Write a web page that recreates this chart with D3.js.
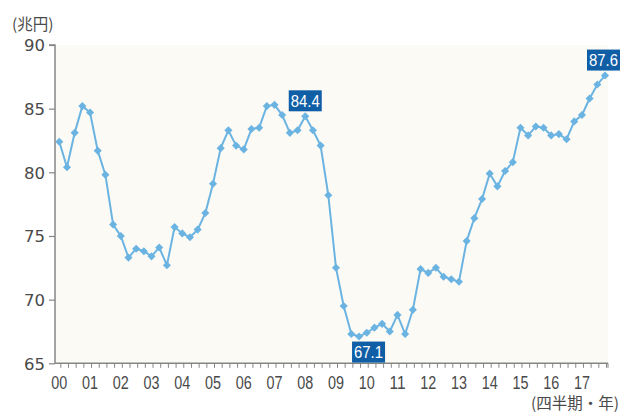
<!DOCTYPE html>
<html><head><meta charset="utf-8">
<script src="https://cdn.jsdelivr.net/npm/d3@7"></script>
<style>
html,body{margin:0;padding:0;background:#fff;}
svg{display:block;}
</style></head>
<body>
<svg id="chart" width="621" height="414"></svg>
<script>
// ---- data ----
const years = ["00","01","02","03","04","05","06","07","08","09","10","11","12","13","14","15","16","17"];
const quarters = ["Q1","Q2","Q3","Q4"];
const categories = years.flatMap(y => quarters.map(q => y + q));
const values = [
  82.4, 80.4, 83.1, 85.2,   // 00
  84.7, 81.7, 79.8, 75.9,   // 01
  75.0, 73.3, 74.0, 73.8,   // 02
  73.4, 74.1, 72.7, 75.7,   // 03
  75.2, 74.9, 75.5, 76.8,   // 04
  79.1, 81.9, 83.3, 82.1,   // 05
  81.8, 83.4, 83.5, 85.2,   // 06
  85.3, 84.5, 83.1, 83.3,   // 07
  84.4, 83.3, 82.1, 78.2,   // 08
  72.5, 69.5, 67.3, 67.1,   // 09
  67.4, 67.8, 68.1, 67.5,   // 10
  68.8, 67.3, 69.2, 72.4,   // 11
  72.1, 72.5, 71.8, 71.6,   // 12
  71.4, 74.6, 76.4, 77.9,   // 13
  79.9, 78.9, 80.1, 80.8,   // 14
  83.5, 82.9, 83.6, 83.5,   // 15
  82.9, 83.0, 82.6, 84.0,   // 16
  84.5, 85.8, 86.9, 87.6    // 17
];
const yTicks = [65, 70, 75, 80, 85, 90];
const calloutsAbove = ["08Q1", "17Q4"];
const calloutsBelow = ["09Q4"];
const yUnit = "(兆円)";
const xUnit = "(四半期・年)";

// ---- layout ----
const svg = d3.select("#chart");
const W = 621;
const axisX = 55, axisRight = 608, plotTop = 45, plotBottom = 363.3;
const x = d3.scalePoint().domain(categories).range([59.3, 605]);
const y = d3.scaleLinear().domain([65, 90]).range([plotBottom, plotTop]);
const data = categories.map((c, i) => ({c, v: values[i]}));

const lineColor = "#6bb4e2";
const boxColor = "#0f5ea6";
const textColor = "#4a4a4a";
const axisColor = "#858585";

// plot background
svg.append("rect").attr("x", axisX).attr("y", plotTop)
  .attr("width", axisRight - axisX).attr("height", plotBottom - plotTop)
  .attr("fill", "#fcfaf5");

// y axis
const yAxis = d3.axisLeft(y).tickValues(yTicks).tickSize(6).tickPadding(4);
const gy = svg.append("g").attr("transform", `translate(${axisX},0)`).call(yAxis);
gy.select(".domain").attr("stroke", axisColor).attr("stroke-width", 1.5).attr("d", `M-6,${plotTop}H0V${plotBottom}`);
gy.selectAll(".tick line").attr("stroke", axisColor).attr("stroke-width", 1.2);
gy.selectAll(".tick text").attr("fill", textColor)
  .style("font-family", "'DejaVu Sans', sans-serif").style("font-size", "16.5px")
  .attr("dy", "0.36em");

// x axis: quarter ticks
const gx = svg.append("g").attr("transform", `translate(0,${plotBottom})`);
gx.append("line").attr("x1", axisX).attr("x2", axisRight).attr("y1", 0).attr("y2", 0)
  .attr("stroke", axisColor).attr("stroke-width", 1.5);
gx.selectAll("line.qt").data(categories).enter().append("line").attr("class", "qt")
  .attr("x1", d => x(d) + 1.5).attr("x2", d => x(d) + 1.5)
  .attr("y1", 0).attr("y2", 4.5).attr("stroke", axisColor).attr("stroke-width", 1);
gx.append("line").attr("x1", axisRight).attr("x2", axisRight).attr("y1", 0).attr("y2", 4.5)
  .attr("stroke", axisColor).attr("stroke-width", 1);
gx.selectAll("text.yl").data(years).enter().append("text").attr("class", "yl")
  .attr("x", d => x(d + "Q1")).attr("y", 25.5)
  .attr("text-anchor", "middle").attr("fill", textColor)
  .style("font-family", "'Liberation Sans', Arial, sans-serif").style("font-size", "18px")
  .attr("textLength", 16).attr("lengthAdjust", "spacingAndGlyphs")
  .text(d => d);

// line
svg.append("path").datum(data)
  .attr("fill", "none").attr("stroke", lineColor).attr("stroke-width", 2)
  .attr("d", d3.line().x(d => x(d.c)).y(d => y(d.v)));

// diamond markers
svg.selectAll("path.mk").data(data).enter().append("path").attr("class", "mk")
  .attr("transform", d => `translate(${x(d.c)},${y(d.v)})`)
  .attr("d", d3.symbol().type(d3.symbolDiamond2).size(42))
  .attr("fill", lineColor);

// callouts
function callout(cat, below) {
  const v = values[categories.indexOf(cat)];
  const px = x(cat), py = y(v);
  const w = 33, h = 21;
  let bx = below ? px - 7 : px - w / 2;
  bx = Math.min(bx, W - w - 1);
  const by = below ? py + 5 : py - 5 - h;
  svg.append("rect").attr("x", bx).attr("y", by).attr("width", w).attr("height", h).attr("fill", boxColor);
  svg.append("text").attr("x", bx + w / 2).attr("y", by + h / 2 + 6)
    .attr("text-anchor", "middle").attr("fill", "#fff")
    .style("font-family", "'Liberation Sans', Arial, sans-serif").style("font-size", "17px")
    .attr("textLength", 29).attr("lengthAdjust", "spacingAndGlyphs")
    .text(v.toFixed(1));
}
calloutsAbove.forEach(c => callout(c, false));
calloutsBelow.forEach(c => callout(c, true));

// unit labels
svg.append("text").attr("x", 12).attr("y", 30).attr("fill", textColor)
  .style("font-family", "'Noto Sans CJK JP', sans-serif").style("font-size", "15.5px")
  .text(yUnit);
svg.append("text").attr("x", 619).attr("y", 409).attr("text-anchor", "end").attr("fill", textColor)
  .style("font-family", "'Noto Sans CJK JP', sans-serif").style("font-size", "15.5px")
  .text(xUnit);
</script>
</body></html>
